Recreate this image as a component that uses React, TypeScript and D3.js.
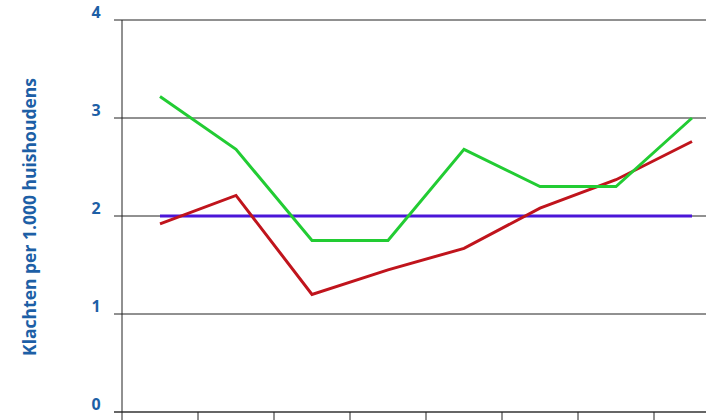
import React from "react";
import * as d3 from "d3";

const categories = ["1", "2", "3", "4", "5", "6", "7", "8"];
const greenValues = [3.22, 2.68, 1.75, 1.75, 2.68, 2.3, 2.3, 3.0];
const redValues = [1.92, 2.21, 1.2, 1.45, 1.67, 2.08, 2.37, 2.76];
const blueValues = [2, 2, 2, 2, 2, 2, 2, 2];
const yTicks = [0, 1, 2, 3, 4];

const width = 706;
const height = 420;
const left = 122;
const top = 20;
const bottom = 412;

const App: React.FC = () => {
    const x = d3.scaleBand<string>().domain(categories).range([left, left + 76 * 8]);
    const y = d3.scaleLinear().domain([0, 4]).range([bottom, top]);
    const line = d3
        .line<number>()
        .x((_d, i) => (x(categories[i]) as number) + x.bandwidth() / 2)
        .y((d) => y(d));
    const series = [
        { values: blueValues, color: "#4b16d8" },
        { values: redValues, color: "#c0141c" },
        { values: greenValues, color: "#22cc33" },
    ];
    const blue = "#1d5fa6";

    return (
        <svg
            width={width}
            height={height}
            style={{ position: "absolute", left: 0, top: 0 }}
            fontFamily="'Open Sans', sans-serif"
        >
            {yTicks.map((t) => (
                <g key={t}>
                    <line x1={114} x2={width} y1={y(t)} y2={y(t)} stroke={t === 0 ? "#333" : "#222"} strokeWidth={t === 0 ? 1.5 : 1} />
                    <text x={96} y={y(t) - 2} textAnchor="middle" fill={blue} fontWeight="bold" fontSize={16}>
                        {t}
                    </text>
                </g>
            ))}
            <line x1={left} x2={left} y1={top} y2={bottom + 8} stroke="#222" strokeWidth={1} />
            {categories.slice(1).map((c) => (
                <line key={c} x1={x(c)} x2={x(c)} y1={bottom} y2={bottom + 8} stroke="#222" />
            ))}
            {series.map((s, i) => (
                <path key={i} d={line(s.values) ?? ""} fill="none" stroke={s.color} strokeWidth={3} />
            ))}
            <text
                transform={`translate(36,217) rotate(-90)`}
                textAnchor="middle"
                fill={blue}
                fontWeight="bold"
                fontSize={17.5}
            >
                Klachten per 1.000 huishoudens
            </text>
        </svg>
    );
};

export default App;
